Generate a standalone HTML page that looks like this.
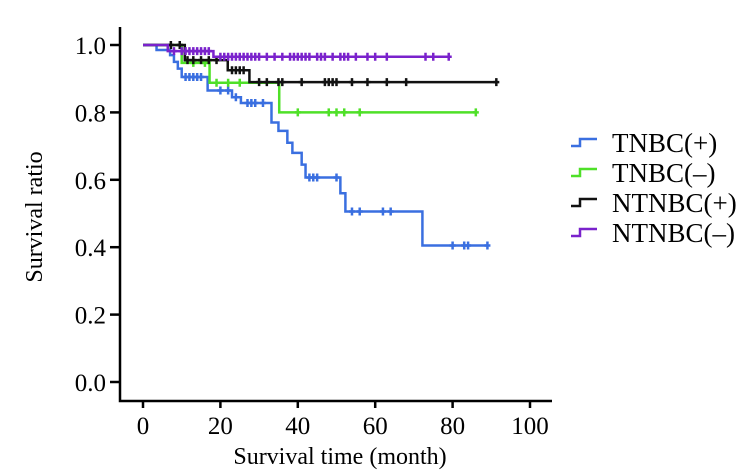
<!DOCTYPE html>
<html><head><meta charset="utf-8"><style>
html,body{margin:0;padding:0;background:#fff;}
svg{display:block;font-family:"Liberation Serif",serif;}
</style></head><body>
<svg id="chart" width="750" height="475" viewBox="0 0 750 475" xmlns="http://www.w3.org/2000/svg"></svg>
<script>
const xTicks = [0, 20, 40, 60, 80, 100];
const yTicks = [0.0, 0.2, 0.4, 0.6, 0.8, 1.0];
const seriesNames = ["TNBC(+)", "TNBC(\u2013)", "NTNBC(+)", "NTNBC(\u2013)"];
const seriesColors = ["#3a6fe0", "#4fe028", "#111111", "#7a22cc"];
// step times and survival values after each step
const tnbcPosTimes = [0, 3.5, 7, 8, 9, 10, 16.7, 23, 25.3, 33.2, 35, 37.3, 38.6, 41, 42, 51, 52.3, 72.2];
const tnbcPosSurv = [1.0, 0.985, 0.97, 0.95, 0.93, 0.905, 0.865, 0.845, 0.828, 0.77, 0.745, 0.71, 0.68, 0.645, 0.607, 0.56, 0.506, 0.405];
const tnbcPosEnd = 89.2;
const tnbcPosCens = [11, 12, 13, 14, 15, 20, 22, 24, 27, 28, 29, 31, 43, 44, 45, 50, 54, 56, 62, 64, 80, 83, 84, 89];
const tnbcNegTimes = [0, 10, 17.2, 35.2];
const tnbcNegSurv = [1.0, 0.947, 0.888, 0.80];
const tnbcNegEnd = 86;
const tnbcNegCens = [13, 16, 19, 22, 25, 40, 48, 50, 52, 56, 86];
const ntnbcPosTimes = [0, 10.8, 21.9, 27.5];
const ntnbcPosSurv = [1.0, 0.955, 0.925, 0.89];
const ntnbcPosEnd = 91.3;
const ntnbcPosCens = [7.2, 9.5, 11.5, 13, 15, 17, 19, 23, 24, 25, 26, 30, 32, 35, 36, 41, 47, 48, 49, 50, 54, 58, 63, 68, 91.3];
const ntnbcNegTimes = [0, 6.4, 18.2];
const ntnbcNegSurv = [1.0, 0.982, 0.965];
const ntnbcNegEnd = 79.3;
const ntnbcNegCens = [8, 10, 11, 12, 13, 14, 15, 16, 17, 20, 21, 22, 23, 24, 25, 26, 27, 28, 29, 30, 32, 34, 36, 38, 39, 40, 41, 42, 43, 45, 46, 47, 49, 51, 52, 53, 55, 58, 60, 63, 73, 75, 79];

const svg = document.getElementById('chart');
const NS = 'http://www.w3.org/2000/svg';
const x = m => 143 + m * 3.87;
const y = s => 382 - s * 337;
function mk(tag, attrs, parent) {
  const e = document.createElementNS(NS, tag);
  for (const k in attrs) e.setAttribute(k, attrs[k]);
  (parent || svg).appendChild(e);
  return e;
}
// axes
const axes = mk('g', {});


mk('path', {d: 'M120 27 V401 H552', fill: 'none', stroke: '#000', 'stroke-width': 2.5}, axes);
xTicks.forEach(t => {
  mk('line', {x1: x(t), x2: x(t), y1: 401, y2: 408, stroke: '#000', 'stroke-width': 2.5}, axes);
  const tx = mk('text', {x: x(t), y: 434, 'text-anchor': 'middle', 'font-size': 25}, axes);
  tx.textContent = t;
  
  
});
yTicks.forEach(t => {
  mk('line', {x1: 110, x2: 120, y1: y(t), y2: y(t), stroke: '#000', 'stroke-width': 2.5}, axes);
  const tx = mk('text', {x: 106, y: y(t) + 9, 'text-anchor': 'end', 'font-size': 25}, axes);
  tx.textContent = t.toFixed(1);
  
  
});
const xt = mk('text', {x: 340, y: 464, 'text-anchor': 'middle', 'font-size': 24});
xt.textContent = 'Survival time (month)';


const yt = mk('text', {x: 0, y: 0, 'text-anchor': 'middle', 'font-size': 24, transform: 'translate(42,217) rotate(-90)'});
yt.textContent = 'Survival ratio';



function survAt(times, surv, t) {
  let s = surv[0];
  for (let i = 0; i < times.length; i++) if (times[i] <= t) s = surv[i];
  return s;
}
const series = [
  [tnbcPosTimes, tnbcPosSurv, tnbcPosEnd, tnbcPosCens],
  [tnbcNegTimes, tnbcNegSurv, tnbcNegEnd, tnbcNegCens],
  [ntnbcPosTimes, ntnbcPosSurv, ntnbcPosEnd, ntnbcPosCens],
  [ntnbcNegTimes, ntnbcNegSurv, ntnbcNegEnd, ntnbcNegCens]
];
[0, 1, 2, 3].forEach(i => {
  const [times, surv, end, cens] = series[i];
  const g = mk('g', {});
  
  
  let d = 'M' + x(times[0]) + ' ' + y(surv[0]);
  for (let k = 1; k < times.length; k++) {
    d += ' H' + x(times[k]) + ' V' + y(surv[k]);
  }
  d += ' H' + x(end);
  mk('path', {d: d, fill: 'none', stroke: seriesColors[i], 'stroke-width': 2.5}, g);
  cens.forEach(c => {
    const cy = y(survAt(times, surv, c));
    const m = mk('path', {d: `M${x(c)} ${cy - 4} V${cy + 4} M${x(c) - 3} ${cy} H${x(c) + 3}`, stroke: seriesColors[i], 'stroke-width': 2.5}, g);
    
    
  });
});
// legend
const lg = mk('g', {});


seriesNames.forEach((n, i) => {
  const cy = 143 + i * 30;
  const e = mk('g', {}, lg);
  
  
  mk('path', {d: `M571 ${cy + 3} H580 V${cy - 4} H597`, fill: 'none', stroke: seriesColors[i], 'stroke-width': 2.5}, e);
  const t = mk('text', {x: 612, y: cy + 9, 'font-size': 27}, e);
  t.textContent = n;
});
</script>
</body></html>
